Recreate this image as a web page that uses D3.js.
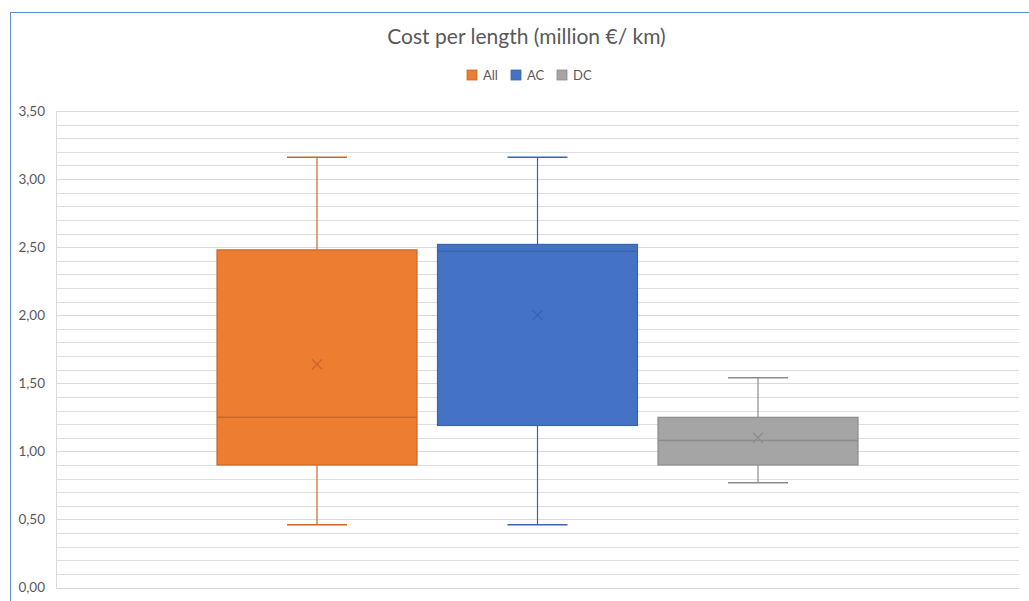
<!DOCTYPE html>
<html><head><meta charset="utf-8">
<script src="https://cdn.jsdelivr.net/npm/d3@7"></script>
<style>body{margin:0;background:#fff;font-family:Lato,"Open Sans",sans-serif;}</style>
</head><body><svg id="c" width="1029" height="601"></svg>
<script>
const series = ["All", "AC", "DC"];
const whiskerMax = [3.16, 3.16, 1.54];
const q3 = [2.48, 2.52, 1.25];
const median = [1.25, 2.47, 1.08];
const q1 = [0.90, 1.19, 0.90];
const whiskerMin = [0.46, 0.46, 0.77];
const mean = [1.64, 2.00, 1.10];
const yTicks = [0, 0.5, 1, 1.5, 2, 2.5, 3, 3.5];
const title = "Cost per length (million €/ km)";
const fills = ["#ED7D31", "#4472C4", "#A5A5A5"];
const strokes = ["#C8672A", "#3A64AE", "#8C8C8C"];

const svg = d3.select("#c");
// chart border
svg.append("rect").attr("x", 10.5).attr("y", 12.5).attr("width", 1040).attr("height", 620)
  .attr("fill", "#fff").attr("stroke", "#5B8BD8").attr("stroke-width", 1);

const plot = {left: 56, right: 1019, top: 111, bottom: 587.5};
const y = d3.scaleLinear().domain([0, 3.5]).range([plot.bottom, plot.top]);
const x = d3.scaleBand().domain(series).range([206.75, 868.25]).paddingInner(0.093).paddingOuter(0.0465);

// minor gridlines
const minor = d3.range(0, 3.5001, 0.1);
svg.append("g").selectAll("line").data(minor).join("line")
  .attr("x1", plot.left).attr("x2", plot.right)
  .attr("y1", d => Math.round(y(d)) + 0.5).attr("y2", d => Math.round(y(d)) + 0.5)
  .attr("stroke", "#DEDEDE").attr("stroke-width", 1.2);
// major gridlines
svg.append("g").selectAll("line").data(yTicks).join("line")
  .attr("x1", plot.left).attr("x2", plot.right)
  .attr("y1", d => Math.round(y(d)) + 0.5).attr("y2", d => Math.round(y(d)) + 0.5)
  .attr("stroke", "#D9D9D9").attr("stroke-width", 1.2);
// vertical axis line
svg.append("line").attr("x1", plot.left + 0.5).attr("x2", plot.left + 0.5)
  .attr("y1", plot.top).attr("y2", plot.bottom).attr("stroke", "#D9D9D9");

// y axis labels
const fmt = d => d.toFixed(2).replace(".", ",");
svg.append("g").selectAll("text").data(yTicks).join("text")
  .attr("x", 45).attr("y", d => y(d)).attr("dy", "0.35em")
  .attr("text-anchor", "end").attr("font-size", 13.5).attr("fill", "#595959")
  .text(fmt);

// boxes
const bw = x.bandwidth();
series.forEach((s, i) => {
  const g = svg.append("g");
  const cx = x(s) + bw / 2;
  const capW = bw * 0.3;
  // whiskers
  g.append("line").attr("x1", cx).attr("x2", cx).attr("y1", y(whiskerMax[i])).attr("y2", y(q3[i]))
    .attr("stroke", strokes[i]).attr("stroke-width", 1.2);
  g.append("line").attr("x1", cx).attr("x2", cx).attr("y1", y(q1[i])).attr("y2", y(whiskerMin[i]))
    .attr("stroke", strokes[i]).attr("stroke-width", 1.2);
  g.append("line").attr("x1", cx - capW / 2).attr("x2", cx + capW / 2).attr("y1", y(whiskerMax[i])).attr("y2", y(whiskerMax[i]))
    .attr("stroke", strokes[i]).attr("stroke-width", 1.5);
  g.append("line").attr("x1", cx - capW / 2).attr("x2", cx + capW / 2).attr("y1", y(whiskerMin[i])).attr("y2", y(whiskerMin[i]))
    .attr("stroke", strokes[i]).attr("stroke-width", 1.5);
  // box
  g.append("rect").attr("x", x(s)).attr("width", bw)
    .attr("y", y(q3[i])).attr("height", y(q1[i]) - y(q3[i]))
    .attr("fill", fills[i]).attr("stroke", strokes[i]).attr("stroke-width", 1.2);
  // median
  g.append("line").attr("x1", x(s)).attr("x2", x(s) + bw).attr("y1", y(median[i])).attr("y2", y(median[i]))
    .attr("stroke", strokes[i]).attr("stroke-width", 1.5);
  // mean marker
  const my = y(mean[i]), r = 5;
  g.append("path").attr("d", `M${cx - r},${my - r}L${cx + r},${my + r}M${cx - r},${my + r}L${cx + r},${my - r}`)
    .attr("stroke", strokes[i]).attr("stroke-width", 1.2).attr("fill", "none");
});

// title
svg.append("text").attr("x", 526.5).attr("y", 44).attr("text-anchor", "middle")
  .attr("font-size", 21).attr("fill", "#595959").text(title);

// legend
const legX = [467, 511, 557];
const leg = svg.append("g");
series.forEach((s, i) => {
  leg.append("rect").attr("x", legX[i]).attr("y", 70).attr("width", 10).attr("height", 10)
    .attr("fill", fills[i]).attr("stroke", strokes[i]).attr("stroke-width", 0.8);
  leg.append("text").attr("x", legX[i] + 16).attr("y", 75.5).attr("dy", "0.35em")
    .attr("font-size", 13).attr("fill", "#595959").text(s);
});
</script></body></html>
